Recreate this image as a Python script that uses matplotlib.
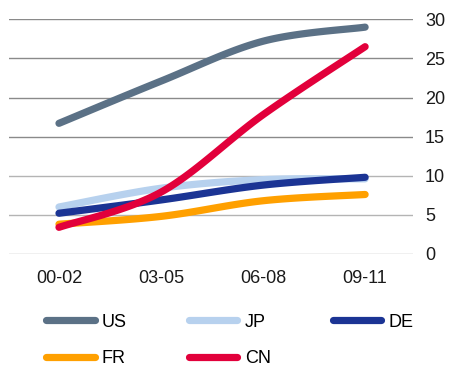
import numpy as np
import matplotlib
matplotlib.use("Agg")
import matplotlib.pyplot as plt
from matplotlib.lines import Line2D

plt.rcParams["font.family"] = ["Liberation Sans", "DejaVu Sans"]

# --- Data ---

periods = ["00-02", "03-05", "06-08", "09-11"]
us = [16.7, 22.1, 27.2, 29.0]
jp = [6.0, 8.4, 9.5, 9.6]
de = [5.2, 6.9, 8.8, 9.8]
fr = [3.8, 4.8, 6.8, 7.6]
cn = [3.4, 7.9, 17.8, 26.5]

series = [
    ("US", us, "#5b7186"),
    ("JP", jp, "#b7d1ee"),
    ("DE", de, "#1b3494"),
    ("FR", fr, "#ffa000"),
    ("CN", cn, "#e2003b"),
]


def smooth(xs, ys, steps=40):
    """Catmull-Rom style cubic Bezier through the points (office 'smoothed line')."""
    p = np.column_stack([xs, ys]).astype(float)
    n = len(p)
    out = []
    for i in range(n - 1):
        p0 = p[i - 1] if i > 0 else p[i]
        p3 = p[i + 2] if i + 2 < n else p[i + 1]
        p1, p2 = p[i], p[i + 1]
        c1 = p1 + (p2 - p0) / 6
        c2 = p2 - (p3 - p1) / 6
        t = np.linspace(0, 1, steps)[:, None]
        seg = ((1 - t) ** 3) * p1 + 3 * ((1 - t) ** 2) * t * c1 \
            + 3 * (1 - t) * t ** 2 * c2 + t ** 3 * p2
        out.append(seg if i == 0 else seg[1:])
    pts = np.vstack(out)
    return pts[:, 0], pts[:, 1]


fig = plt.figure(figsize=(4.49, 3.68), dpi=100)
ax = fig.add_axes([0.02, 0.31, 0.90, 0.6375])

x = np.arange(len(periods))
lw = 5.2
for name, vals, color in series:
    sx, sy = smooth(x, vals)
    ax.plot(sx, sy, color=color, lw=lw, solid_capstyle="round", label=name)

ax.set_xlim(-0.49, 3.47)
ax.set_ylim(0, 30)
ax.set_yticks(range(0, 31, 5))
ax.set_xticks(x)
ax.set_xticklabels(periods)
ax.yaxis.tick_right()
ax.tick_params(axis="y", length=0, pad=8.5, labelsize=13, labelcolor="#1a1a1a")
ax.tick_params(axis="x", length=0, pad=11.5, labelsize=13, labelcolor="#1a1a1a")
ax.grid(axis="y", lw=1)
ax.grid(axis="x", visible=False)
# lower gridlines are a lighter grey than the upper ones
for val, gl in zip(ax.get_yticks(), ax.get_ygridlines()):
    gl.set_color("#b4b4b4" if val <= 10 else "#8a8a8a")
ax.set_axisbelow(True)
for s in ax.spines.values():
    s.set_visible(False)

# legend filled row by row: US JP DE / FR CN
order = ["US", "FR", "JP", "CN", "DE"]
colors = {n: c for n, _, c in series}
handles = [Line2D([0], [0], color=colors[n], lw=lw, solid_capstyle="round") for n in order]
fig.legend(handles, order, loc="upper left", bbox_to_anchor=(0.102, 0.148),
           bbox_transform=fig.transFigure, ncol=3, frameon=False,
           fontsize=13, handlelength=2.7, handletextpad=0.4,
           columnspacing=3.43, labelspacing=1.08, borderpad=0, borderaxespad=0)

fig.savefig("out.png", dpi=100)
